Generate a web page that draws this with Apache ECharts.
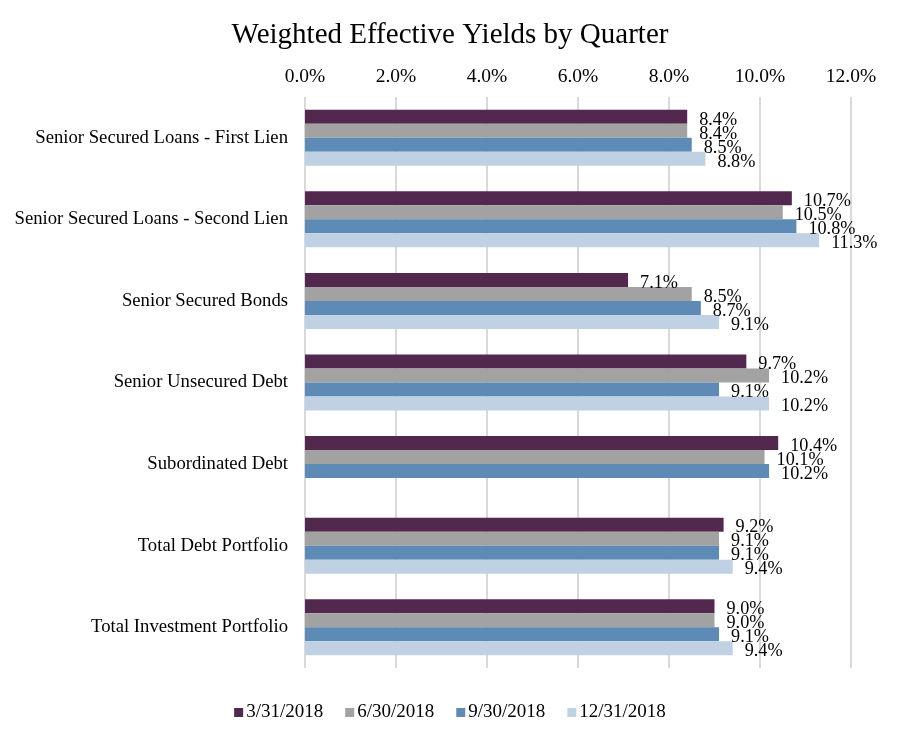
<!DOCTYPE html>
<html>
<head>
<meta charset="utf-8">
<script src="https://cdn.jsdelivr.net/npm/echarts@6/dist/echarts.min.js"></script>
<style>html,body{margin:0;padding:0;background:#fff;}#chart{width:900px;height:739px;}</style>
</head>
<body>
<div id="chart"></div>
<script>
const categories = [
  "Senior Secured Loans - First Lien",
  "Senior Secured Loans - Second Lien",
  "Senior Secured Bonds",
  "Senior Unsecured Debt",
  "Subordinated Debt",
  "Total Debt Portfolio",
  "Total Investment Portfolio"
];
const seriesNames = ["3/31/2018", "6/30/2018", "9/30/2018", "12/31/2018"];
const q1_2018 = [8.4, 10.7, 7.1, 9.7, 10.4, 9.2, 9.0];
const q2_2018 = [8.4, 10.5, 8.5, 10.2, 10.1, 9.1, 9.0];
const q3_2018 = [8.5, 10.8, 8.7, 9.1, 10.2, 9.1, 9.1];
const q4_2018 = [8.8, 11.3, 9.1, 10.2, null, 9.4, 9.4];
const xTicks = [0, 2, 4, 6, 8, 10, 12];

const colors = ["#52284F", "#A2A2A2", "#5E8BB6", "#BFD1E3"];
const font = "Liberation Serif, Times New Roman, serif";
const allData = [q1_2018, q2_2018, q3_2018, q4_2018];

const chart = echarts.init(document.getElementById('chart'));
chart.setOption({
  backgroundColor: '#fff',
  animation: false,
  title: {
    text: 'Weighted Effective Yields by Quarter',
    left: 'center', top: 16,
    textStyle: { fontFamily: font, fontSize: 29, fontWeight: 'normal', color: '#000' }
  },
  legend: {
    data: seriesNames,
    bottom: 12, left: 'center',
    icon: 'rect', itemWidth: 9, itemHeight: 9, itemGap: 22,
    textStyle: { fontFamily: font, fontSize: 19, color: '#000', padding: [0, 0, 0, -2] }
  },
  grid: { left: 305, right: 49, top: 97, bottom: 71, containLabel: false },
  xAxis: {
    type: 'value', position: 'top', min: xTicks[0], max: xTicks[xTicks.length - 1], interval: 2,
    axisLine: { show: false }, axisTick: { show: false },
    splitLine: { lineStyle: { color: '#D9D9D9', width: 2 } },
    axisLabel: { margin: 10, fontFamily: font, fontSize: 19.5, color: '#000',
      formatter: v => v.toFixed(1) + '%' }
  },
  yAxis: {
    type: 'category', data: categories, inverse: true,
    axisLine: { show: false }, axisTick: { show: false },
    axisLabel: { margin: 17, fontFamily: font, fontSize: 18.7, color: '#000', padding: [3, 0, 0, 0] }
  },
  series: seriesNames.map((name, i) => ({
    name, type: 'bar', data: allData[i],
    barWidth: 14, barGap: '0%',
    itemStyle: { color: colors[i] },
    label: {
      show: true, position: 'right', distance: 12, offset: [0, 3],
      fontFamily: font, fontSize: 18.2, color: '#000',
      formatter: p => p.value == null ? '' : p.value.toFixed(1) + '%'
    }
  }))
});
</script>
</body>
</html>
